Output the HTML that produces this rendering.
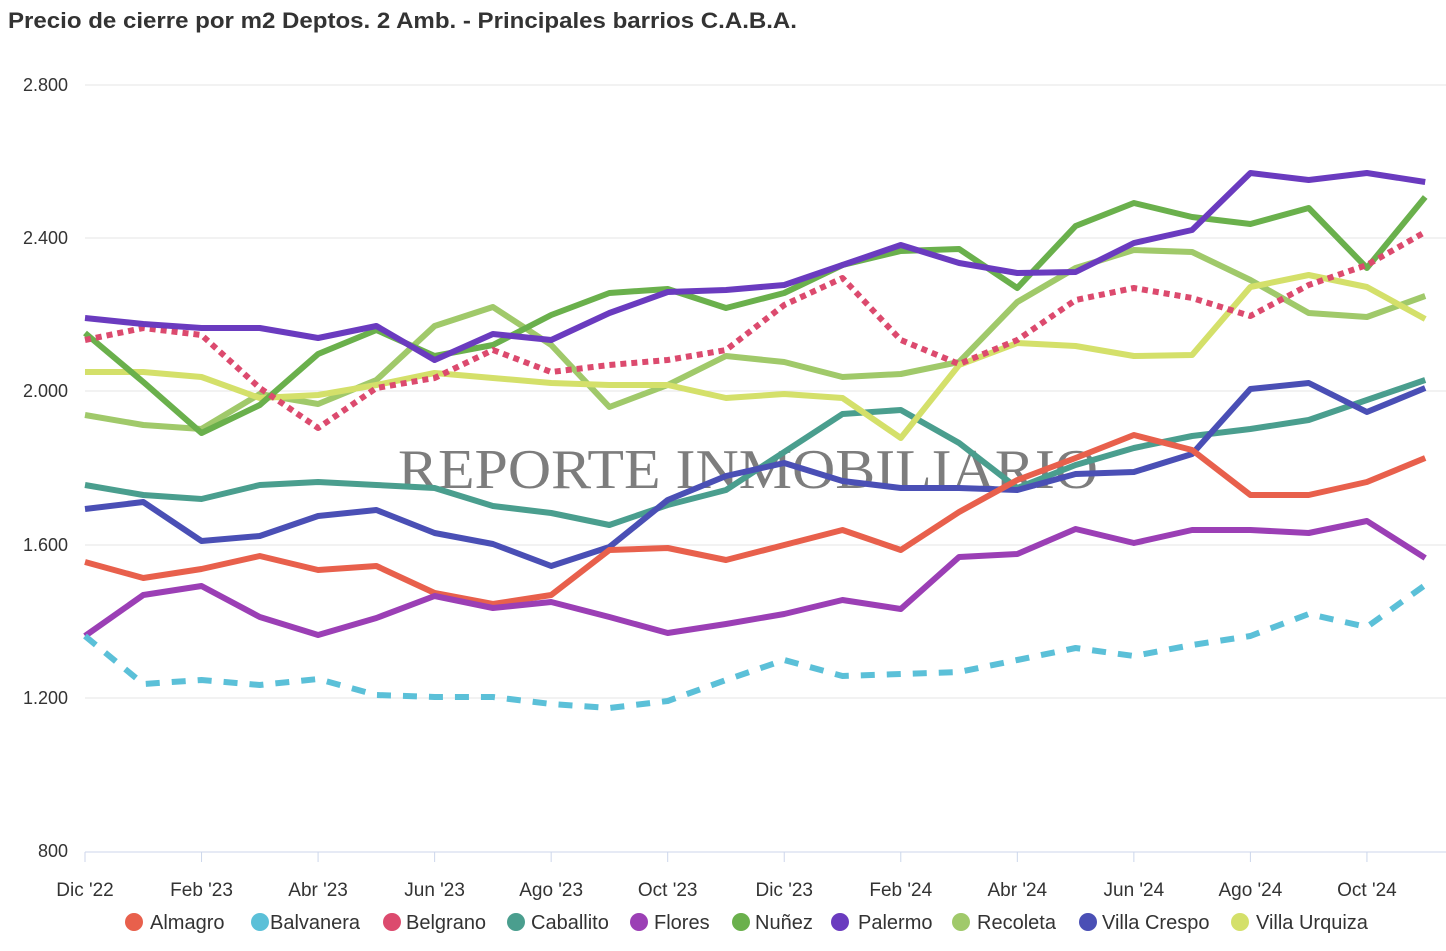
<!DOCTYPE html>
<html><head><meta charset="utf-8"><style>
body{margin:0;background:#fff;font-family:"Liberation Sans",Arial,sans-serif}
svg text{font-family:"Liberation Sans",Arial,sans-serif}
</style></head><body>
<svg id="s" width="1446" height="946" xmlns="http://www.w3.org/2000/svg">
<text x="8" y="28" font-size="22" font-weight="bold" fill="#333" textLength="789" lengthAdjust="spacingAndGlyphs">Precio de cierre por m2 Deptos. 2 Amb. - Principales barrios C.A.B.A.</text>
<g stroke="#e6e6e6" stroke-width="1">
<line x1="85" x2="1446" y1="85" y2="85"/><line x1="85" x2="1446" y1="238" y2="238"/>
<line x1="85" x2="1446" y1="391" y2="391"/><line x1="85" x2="1446" y1="545" y2="545"/>
<line x1="85" x2="1446" y1="698" y2="698"/><line x1="85" x2="1446" y1="852" y2="852" stroke="#ccd6eb"/>
</g>
<g font-size="18" fill="#333" text-anchor="end">
<text x="68" y="91">2.800</text><text x="68" y="244">2.400</text><text x="68" y="397">2.000</text>
<text x="68" y="551">1.600</text><text x="68" y="704">1.200</text><text x="68" y="857">800</text>
</g>
<text x="398" y="488" font-size="56" fill="#666" fill-opacity="0.85" textLength="700" lengthAdjust="spacingAndGlyphs" style="font-family:'Liberation Serif',serif">REPORTE INMOBILIARIO</text>
<g id="lines" fill="none" stroke-width="6" stroke-linejoin="round"></g>
<g id="xl" font-size="19" fill="#333" text-anchor="middle"></g>
<g id="lg" font-size="20" fill="#333"></g>
</svg>
<script>
var X=i=>85+i*58.27;
var S=[
["Almagro","#e8604c",[562,578,569,556,570,566,593,604,595,550,548,560,545,530,550,512,480,458,435,450,495,495,482,458],""],
["Balvanera","#5bc0d8",[636,684,680,685,679,695,697,697,704,708,701,680,660,676,674,672,660,648,656,645,636,614,627,585],"14 12"],
["Belgrano","#dc4a6e",[340,328,335,388,428,388,378,350,372,365,360,350,305,278,340,364,340,300,288,298,316,285,265,232],"6 5"],
["Caballito","#4a9e8e",[485,495,499,485,482,485,488,506,513,525,505,490,452,414,410,443,488,465,448,436,429,420,400,380],""],
["Flores","#9b3fb5",[636,595,586,617,635,618,596,608,602,617,633,624,614,600,609,557,554,529,543,530,530,533,521,558],""],
["Nuñez","#6ab04c",[333,382,433,405,354,330,356,345,315,293,289,308,293,265,251,249,288,226,203,217,224,208,268,197],""],
["Palermo","#6a3bbf",[318,324,328,328,338,326,360,334,340,313,292,290,285,265,245,263,273,272,243,230,173,180,173,182],""],
["Recoleta","#a0c96a",[415,425,429,394,404,380,326,307,345,407,385,356,362,377,374,362,302,268,250,252,280,313,317,296],""],
["Villa Crespo","#4a4fb5",[509,502,541,536,516,510,533,544,566,547,500,476,463,481,488,488,490,474,472,454,389,383,412,388],""],
["Villa Urquiza","#d4e06a",[372,372,377,398,395,385,373,378,383,385,385,398,394,398,438,365,343,346,356,355,287,275,287,319],""]];
var NS="http://www.w3.org/2000/svg",L=document.getElementById("lines");
var order=[3,8,0,4,1,7,9,5,2,6];
order.forEach(k=>{var s=S[k],p=document.createElementNS(NS,"polyline");
p.setAttribute("points",s[2].map((y,i)=>X(i).toFixed(1)+","+y).join(" "));
p.setAttribute("stroke",s[1]);if(s[3])p.setAttribute("stroke-dasharray",s[3]);L.appendChild(p);});
var labs=["Dic '22","Feb '23","Abr '23","Jun '23","Ago '23","Oct '23","Dic '23","Feb '24","Abr '24","Jun '24","Ago '24","Oct '24"];
var xl=document.getElementById("xl"),h="";
labs.forEach((t,j)=>{var x=X(j*2);h+='<line x1="'+x+'" x2="'+x+'" y1="852" y2="862" stroke="#ccd6eb"/><text x="'+x+'" y="896">'+t+'</text>';});
xl.innerHTML=h;
var cx=[134,260,392,516,639,741,840,961,1088,1240],tx=[150,270,406,531,654,755,858,977,1102,1256],g="";
S.forEach((s,i)=>{g+='<circle cx="'+cx[i]+'" cy="922" r="9" fill="'+s[1]+'"/><text x="'+tx[i]+'" y="929">'+s[0]+'</text>';});
document.getElementById("lg").innerHTML=g;
</script>
</body></html>
